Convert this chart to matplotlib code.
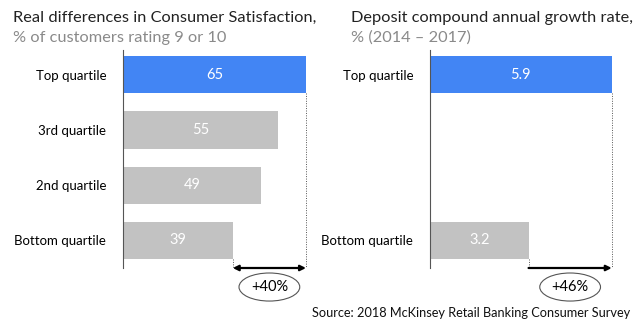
import matplotlib
matplotlib.use("Agg")
import matplotlib.pyplot as plt

plt.rcParams['font.family'] = ['Lato', 'DejaVu Sans']

# data
sat_labels = ["Top quartile", "3rd quartile", "2nd quartile", "Bottom quartile"]
sat_values = [65, 55, 49, 39]
dep_labels = ["Top quartile", "Bottom quartile"]
dep_values = [5.9, 3.2]
dep_rows = [0, 3]
sat_gap = "+40%"
dep_gap = "+46%"

BLUE = "#4285f4"
GREY = "#c2c2c2"

W, H = 636, 324
fig = plt.figure(figsize=(W / 100, H / 100), dpi=100)


def px_axes(x0, x1, y0, y1):
    # pixel box (top-left origin) -> figure fraction
    return fig.add_axes([x0 / W, 1 - y1 / H, (x1 - x0) / W, (y1 - y0) / H])


YTOP, YBOT = -25 / 55, 3 + 28 / 55
BAR_H = 37 / 55


def panel(ax, rows, values, labels, xmax, fmt, gap, double_head):
    colors = [BLUE] + [GREY] * (len(values) - 1)
    ax.barh(rows, values, height=BAR_H, color=colors, zorder=2)
    ax.set_xlim(0, xmax)
    ax.set_ylim(YBOT, YTOP)
    for s in ["top", "right", "bottom"]:
        ax.spines[s].set_visible(False)
    ax.spines["left"].set_color("#555555")
    ax.spines["left"].set_linewidth(0.8)
    ax.set_xticks([])
    ax.set_yticks(rows)
    ax.set_yticklabels(labels, fontsize=9.5)
    ax.tick_params(axis="y", length=0, pad=12)
    for r, v in zip(rows, values):
        ax.text(v / 2, r, fmt.format(v), color="white", fontsize=10.5,
                ha="center", va="center", zorder=3)
    hi, lo = values[0], values[-1]
    ax.plot([hi, hi], [rows[0] + BAR_H / 2, YBOT], ls=(0, (1, 1.5)),
            color="#555555", lw=0.7, clip_on=False)
    ax.plot([lo, lo], [rows[-1] + BAR_H / 2, YBOT], ls=(0, (1, 1.5)),
            color="#555555", lw=0.7, clip_on=False)
    style = "<|-|>" if double_head else "-|>"
    ax.annotate("", xy=(hi, YBOT), xytext=(lo, YBOT),
                arrowprops=dict(arrowstyle=style, color="black", lw=1.6,
                                mutation_scale=8, shrinkA=0, shrinkB=0),
                annotation_clip=False)
    ax.text((hi + lo) / 2, 3.855, gap, fontsize=10.5, ha="center", va="center",
            bbox=dict(boxstyle="ellipse,pad=0.2", fc="white", ec="#555555", lw=0.8),
            clip_on=False)


ax1 = px_axes(123, 320, 50, 268)
panel(ax1, [0, 1, 2, 3], sat_values, sat_labels, 197 / 2.815, "{:d}", sat_gap, True)

ax2 = px_axes(430, 625, 50, 268)
panel(ax2, dep_rows, dep_values, dep_labels, 195 / 30.8, "{:.1f}", dep_gap, False)

fig.text(13 / W, 1 - 18 / H, "Real differences in Consumer Satisfaction,",
         fontsize=11.8, va="center", ha="left", color="#222222")
fig.text(13 / W, 1 - 38 / H, "% of customers rating 9 or 10",
         fontsize=11.8, va="center", ha="left", color="#8a8a8a")
fig.text(351 / W, 1 - 18 / H, "Deposit compound annual growth rate,",
         fontsize=11.8, va="center", ha="left", color="#222222")
fig.text(351 / W, 1 - 38 / H, "% (2014 \u2013 2017)",
         fontsize=11.8, va="center", ha="left", color="#8a8a8a")
fig.text(630 / W, 1 - 313 / H, "Source: 2018 McKinsey Retail Banking Consumer Survey",
         fontsize=9.2, va="center", ha="right", color="#111111")

fig.savefig("out.png", dpi=100, facecolor="white")
